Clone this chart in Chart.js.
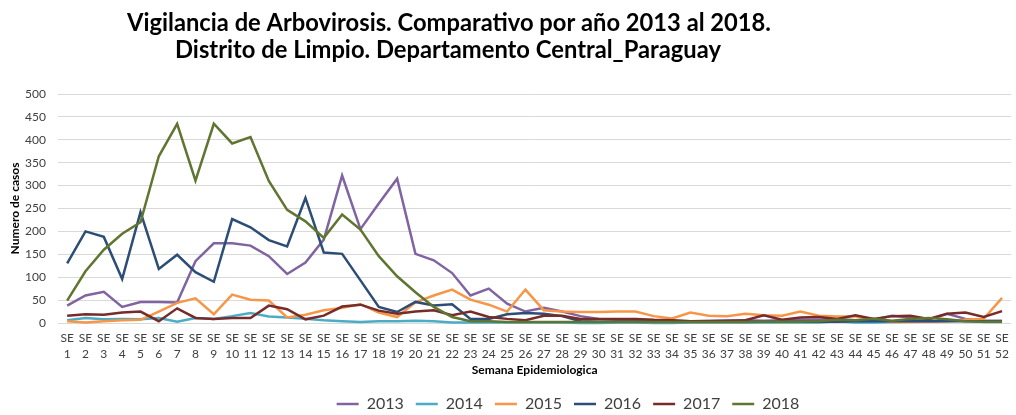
<!DOCTYPE html>
<html lang="es">
<head>
<meta charset="utf-8">
<title>Vigilancia de Arbovirosis - Limpio</title>
<script src="https://cdn.jsdelivr.net/npm/chart.js@4.4.0/dist/chart.umd.min.js"></script>
<style>
  html, body { margin: 0; padding: 0; background: #fff; }
  #chart-wrap { position: relative; width: 1016px; height: 415px; }
</style>
</head>
<body>
<div id="chart-wrap"><canvas id="arbo-chart"></canvas></div>
<script>
// Semanas epidemiologicas (eje X)
const semanas = [
    'SE 1', 'SE 2', 'SE 3', 'SE 4', 'SE 5', 'SE 6', 'SE 7', 'SE 8', 'SE 9', 'SE 10',
    'SE 11', 'SE 12', 'SE 13', 'SE 14', 'SE 15', 'SE 16', 'SE 17', 'SE 18', 'SE 19', 'SE 20',
    'SE 21', 'SE 22', 'SE 23', 'SE 24', 'SE 25', 'SE 26', 'SE 27', 'SE 28', 'SE 29', 'SE 30',
    'SE 31', 'SE 32', 'SE 33', 'SE 34', 'SE 35', 'SE 36', 'SE 37', 'SE 38', 'SE 39', 'SE 40',
    'SE 41', 'SE 42', 'SE 43', 'SE 44', 'SE 45', 'SE 46', 'SE 47', 'SE 48', 'SE 49', 'SE 50',
    'SE 51', 'SE 52'
];

// Numero de casos por semana, un array por año
const casos2013 = [38, 60, 68, 35, 46, 46, 45, 135, 174, 174, 169, 146, 107, 132, 182, 322, 205, 261, 315, 151,
    137, 109, 60, 75, 42, 25, 33, 25, 15, 9, 7, 6, 6, 5, 4, 5, 6, 6, 5, 6,
    7, 7, 8, 6, 7, 16, 12, 7, 20, 9, 5, 5];
const casos2014 = [6, 11, 8, 9, 8, 11, 3, 11, 9, 15, 22, 14, 12, 9, 6, 4, 2, 4, 4, 5,
    4, 1, 1, 1, 1, 1, 1, 1, 0, 0, 1, 1, 0, 0, 1, 1, 1, 1, 1, 1,
    1, 1, 4, 1, 1, 2, 3, 3, 6, 6, 2, 2];
const casos2015 = [4, 1, 4, 6, 7, 25, 44, 54, 19, 62, 51, 49, 12, 18, 28, 33, 41, 23, 13, 45,
    60, 73, 51, 40, 25, 73, 28, 25, 24, 24, 25, 25, 15, 10, 23, 16, 15, 20, 17, 16,
    25, 16, 14, 14, 9, 2, 2, 3, 4, 7, 9, 55];
const casos2016 = [130, 200, 188, 96, 242, 118, 149, 111, 90, 227, 209, 181, 167, 273, 154, 151, 93, 35, 24, 46,
    38, 41, 9, 9, 19, 22, 20, 15, 4, 3, 3, 3, 3, 3, 3, 3, 3, 3, 3, 3,
    3, 3, 3, 4, 4, 4, 4, 4, 4, 4, 4, 4];
const casos2017 = [16, 19, 18, 23, 25, 4, 32, 11, 9, 11, 11, 38, 30, 8, 16, 36, 40, 27, 20, 25,
    28, 17, 25, 13, 9, 6, 16, 16, 9, 9, 9, 9, 7, 6, 4, 4, 4, 6, 17, 7,
    12, 13, 9, 17, 9, 15, 16, 9, 20, 23, 13, 26];
const casos2018 = [49, 113, 160, 195, 220, 364, 435, 311, 435, 392, 406, 310, 247, 222, 186, 237, 204, 146, 102, 67,
    35, 13, 4, 4, 2, 2, 2, 2, 2, 2, 2, 2, 2, 2, 2, 2, 2, 2, 3, 3,
    3, 4, 7, 6, 9, 5, 9, 11, 8, 4, 3, 3];

const tituloLineas = [
    'Vigilancia de Arbovirosis. Comparativo por año 2013 al 2018.',
    'Distrito de Limpio. Departamento Central_Paraguay'
];

const FONT = 'Lato';
const TEXT_GRAY = '#404040';

// The title in the original is not centred on the canvas, so draw it by hand
const tituloPlugin = {
    id: 'tituloDesplazado',
    afterDraw: (chart) => {
        const ctx = chart.ctx;
        ctx.save();
        ctx.font = `bold 24px ${FONT}`;
        ctx.fillStyle = '#000';
        ctx.textAlign = 'center';
        ctx.textBaseline = 'alphabetic';
        ctx.fillText(tituloLineas[0], 449, 31, 644);
        ctx.fillText(tituloLineas[1], 448, 58, 546);
        ctx.restore();
    }
};

// legend sits a bit right of centre and lower than chart.js puts it
const legendNudge = {
    id: 'legendNudge',
    afterLayout: (chart) => {
        const lg = chart.legend;
        if (!lg) return;
        lg.left += 60; lg.right += 60;
        lg.top += 7; lg.bottom += 7;
    }
};

const serie = (label, data, color, order) => ({
    label, data, order,
    borderColor: color,
    backgroundColor: color,
    borderWidth: 2.5,
    pointRadius: 0,
    pointHoverRadius: 0,
    tension: 0,
    fill: false,
    clip: false
});

const ctx = document.getElementById('arbo-chart').getContext('2d');
const arboChart = new Chart(ctx, {
    type: 'line',
    data: {
        labels: semanas,
        datasets: [
            serie('2013', casos2013, '#8064A2', 6),
            serie('2014', casos2014, '#4BACC6', 5),
            serie('2015', casos2015, '#F79646', 4),
            serie('2016', casos2016, '#2C4D75', 3),
            serie('2017', casos2017, '#772C2A', 2),
            serie('2018', casos2018, '#5F7530', 1)
        ]
    },
    options: {
        responsive: true,
        maintainAspectRatio: false,
        animation: false,
        layout: { padding: { top: 94, left: 0, right: 0, bottom: 0 } },
        plugins: {
            title: { display: false },
            tooltip: { enabled: false },
            legend: {
                position: 'bottom',
                reverse: true,
                labels: {
                    usePointStyle: true,
                    pointStyle: 'line',
                    pointStyleWidth: 22,
                    padding: 12,
                    color: TEXT_GRAY,
                    font: { family: FONT, size: 16 }
                }
            }
        },
        scales: {
            x: {
                offset: true,
                grid: { display: false, drawTicks: false },
                border: { display: false },
                ticks: {
                    autoSkip: false,
                    maxRotation: 0,
                    minRotation: 0,
                    padding: 7,
                    color: TEXT_GRAY,
                    font: { family: FONT, size: 12, lineHeight: 1.35 },
                    callback: function (value) { return this.getLabelForValue(value).split(' '); }
                },
                title: {
                    display: true,
                    text: 'Semana Epidemiologica',
                    color: '#000',
                    font: { family: FONT, size: 12, weight: 'bold' },
                    padding: { top: 0, bottom: 0 }
                },
                afterFit: (scale) => { scale.height = 54; }
            },
            y: {
                min: 0,
                max: 500,
                grid: { color: '#d9d9d9', lineWidth: 1, drawTicks: false },
                border: { display: false },
                ticks: {
                    stepSize: 50,
                    padding: 12,
                    color: TEXT_GRAY,
                    font: { family: FONT, size: 12 }
                },
                title: {
                    display: true,
                    text: 'Numero de casos',
                    color: '#000',
                    font: { family: FONT, size: 12, weight: 'bold' },
                    padding: { top: 8, bottom: 0 }
                },
                afterFit: (scale) => { scale.width = 58; }
            }
        }
    },
    plugins: [tituloPlugin, legendNudge]
});
</script>
</body>
</html>
